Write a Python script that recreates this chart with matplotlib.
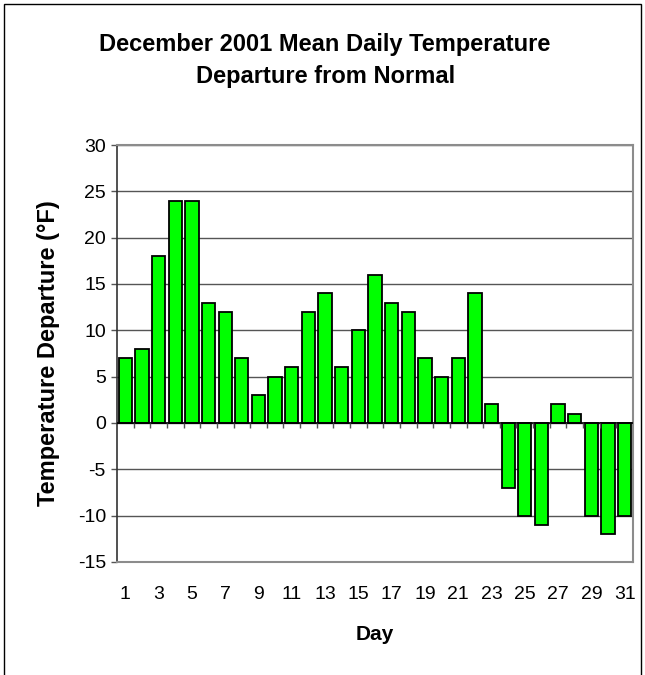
import matplotlib.pyplot as plt
from matplotlib.patches import Rectangle

plt.rcParams["font.family"] = ["Liberation Sans", "DejaVu Sans"]
plt.rcParams["axes.unicode_minus"] = False

# Daily departures from normal, December 2001
days = list(range(1, 32))
departure = [7, 8, 18, 24, 24, 13, 12, 7, 3, 5, 6, 12, 14, 6, 10, 16,
             13, 12, 7, 5, 7, 14, 2, -7, -10, -11, 2, 1, -10, -12, -10]
label_days = list(range(1, 32, 2))
y_ticks = list(range(-15, 31, 5))

fig = plt.figure(figsize=(6.45, 6.75), dpi=100)
ax = fig.add_axes([117 / 645, 1 - 562 / 675, 516 / 645, 417 / 675])

ax.bar(days, departure, width=0.8, color="#00FF00", edgecolor="black",
       linewidth=1.3, zorder=3)

ax.set_xlim(0.5, 31.5)
ax.set_ylim(-15, 30)
ax.set_yticks(y_ticks)
ax.yaxis.grid(True, color="#555555", linewidth=1.0, zorder=0)
ax.tick_params(axis="y", direction="out", length=4, width=1, color="#555555",
               labelsize=14, pad=4)

ax.set_xticks(label_days)
ax.set_xticklabels([str(d) for d in label_days])
ax.tick_params(axis="x", length=0, labelsize=14, pad=17)

# zero line with category boundary ticks
ax.axhline(0, color="black", linewidth=1.2, zorder=4)
bounds = [d + 0.5 for d in days[:-1]]
ax.vlines(bounds, -0.55, 0, color="#555555", linewidth=1, zorder=4)

for side in ["top", "right", "bottom"]:
    ax.spines[side].set_color("#8c8c8c")
    ax.spines[side].set_linewidth(1.5)
ax.spines["left"].set_color("#333333")
ax.spines["left"].set_linewidth(1.2)

ax.set_xlabel("Day", fontsize=15, fontweight="bold", labelpad=16)
ax.set_ylabel("Temperature Departure (°F)", fontsize=17, fontweight="bold",
              labelpad=13)

fig.text(0.503, 1 - 45 / 675, "December 2001 Mean Daily Temperature",
         ha="center", va="center", fontsize=17, fontweight="bold")
fig.text(0.505, 1 - 76 / 675, "Departure from Normal",
         ha="center", va="center", fontsize=17, fontweight="bold")

# outer chart border
fig.patches.append(Rectangle((4 / 645, -0.01), 637 / 645, 1 - 4 / 675 + 0.01,
                             transform=fig.transFigure, fill=False,
                             edgecolor="black", linewidth=1))

fig.savefig("out.png", dpi=100)
